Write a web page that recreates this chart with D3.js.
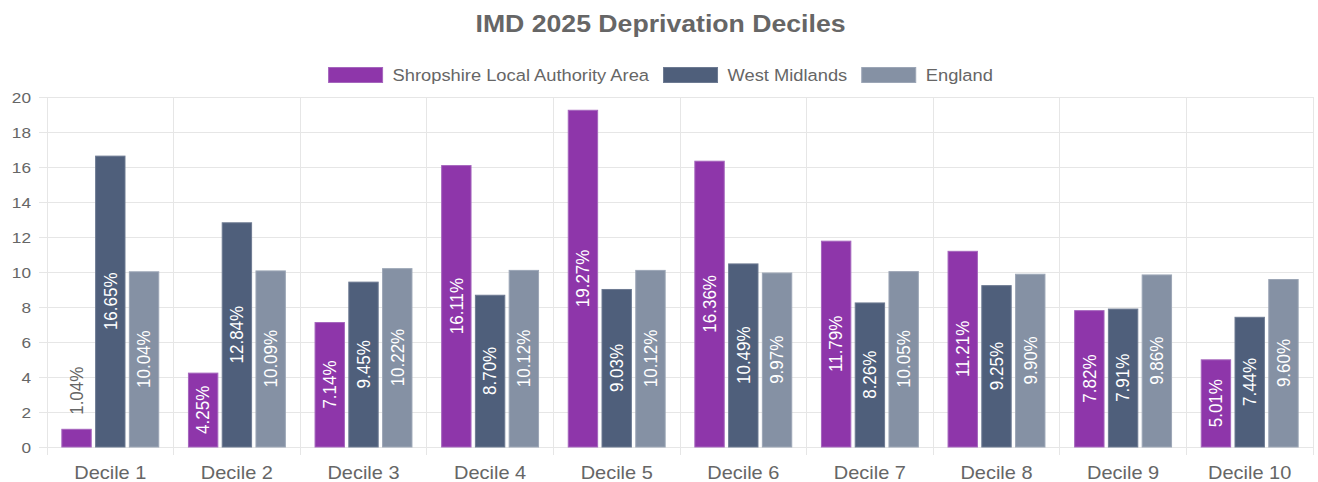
<!DOCTYPE html>
<html><head><meta charset="utf-8">
<script src="https://cdn.jsdelivr.net/npm/d3@7"></script>
<style>html,body{margin:0;padding:0;background:#fff;}svg{display:block;font-family:"Liberation Sans",Arial,sans-serif;}</style>
</head><body>
<svg id="chart" width="1318" height="482"></svg>
<script>
const categories = ["Decile 1","Decile 2","Decile 3","Decile 4","Decile 5","Decile 6","Decile 7","Decile 8","Decile 9","Decile 10"];
const seriesNames = ["Shropshire Local Authority Area","West Midlands","England"];
const shropshire = [1.04,4.25,7.14,16.11,19.27,16.36,11.79,11.21,7.82,5.01];
const westMidlands = [16.65,12.84,9.45,8.70,9.03,10.49,8.26,9.25,7.91,7.44];
const england = [10.04,10.09,10.22,10.12,10.12,9.97,10.05,9.90,9.86,9.60];
const yTicks = [0,2,4,6,8,10,12,14,16,18,20];
const colors = ["#8e36aa","#4f5f7b","#8591a4"];
const borders = ["#a566bd","#6d7a92","#9ca6b6"];

(function(){
const SX = 1.11; // horizontal text stretch
const pL = 47, pR = 1313, pT = 97, pB = 447;
const svg = d3.select("#chart");
const values = [shropshire, westMidlands, england];

const x = d3.scaleBand().domain(categories).range([pL, pR]).padding(0);
const xs = d3.scaleBand().domain(seriesNames)
  .range([x.bandwidth()*0.1, x.bandwidth()*0.9]).paddingInner(0.1).paddingOuter(0.05);
const y = d3.scaleLinear().domain([0,20]).range([pB, pT]);

const grid = "#e6e6e6";
svg.append("g").selectAll("line").data(yTicks).join("line")
  .attr("x1", pL-8).attr("x2", pR).attr("y1", d=>y(d)).attr("y2", d=>y(d))
  .attr("stroke", grid).attr("stroke-width",1).attr("shape-rendering","crispEdges");
const bounds = categories.map(c=>x(c)).concat([pR]);
svg.append("g").selectAll("line").data(bounds).join("line")
  .attr("x1", d=>d).attr("x2", d=>d).attr("y1", pT).attr("y2", pB+8)
  .attr("stroke", grid).attr("stroke-width",1).attr("shape-rendering","crispEdges");

function stext(g, tx, ty, txt, size, opts={}) {
  return g.append("text")
    .attr("transform", `translate(${tx},${ty}) scale(${SX},1)` + (opts.rotate ? ` rotate(${opts.rotate})` : ""))
    .attr("font-size", size).attr("fill", opts.fill || "#666")
    .attr("text-anchor", opts.anchor || "start")
    .attr("dominant-baseline", opts.baseline || "auto")
    .attr("font-weight", opts.weight || "normal")
    .text(txt);
}

const gy = svg.append("g");
yTicks.forEach(v => stext(gy, 31, y(v), String(v), 15.5, {anchor:"end", baseline:"central"}));
const gx = svg.append("g");
categories.forEach(c => stext(gx, x(c)+x.bandwidth()/2, 479, c, 18, {anchor:"middle"}));

const gb = svg.append("g");
const gl = svg.append("g");
values.forEach((vals, si) => {
  categories.forEach((c, ci) => {
    const v = vals[ci];
    const bx = x(c) + xs(seriesNames[si]);
    const bw = xs.bandwidth();
    gb.append("rect").attr("x", bx+0.5).attr("y", y(v)+0.5)
      .attr("width", bw-1).attr("height", pB - y(v) - 0.5)
      .attr("fill", colors[si]).attr("stroke", borders[si]).attr("stroke-width",1);
    const label = v.toFixed(2) + "%";
    const h = pB - y(v);
    const bcx = bx + bw/2;
    if (h > 60) {
      stext(gl, bcx, (y(v)+pB)/2, label, 17, {anchor:"middle", baseline:"central", fill:"#fff", rotate:-90});
    } else {
      stext(gl, bcx, y(v)-14, label, 17, {anchor:"start", baseline:"central", fill:"#666", rotate:-90});
    }
  });
});

stext(svg.append("g"), 660.5, 31.5, "IMD 2025 Deprivation Deciles", 24, {anchor:"middle", weight:"bold"});

const gleg = svg.append("g");
const boxW = 55, boxH = 15, gapT = 9.5, gapI = 14, fs = 16.5;
const items = seriesNames.map((n,i) => {
  const t = stext(gleg, 0, 75, n, fs, {baseline:"central"});
  const w = t.node().getComputedTextLength()*SX;
  return {t, w, i};
});
const total = d3.sum(items, d=>boxW+gapT+d.w) + gapI*(items.length-1);
let lx = 660.5 - total/2;
items.forEach(d => {
  gleg.append("rect").attr("x", lx+0.5).attr("y", 67.5).attr("width", boxW-1).attr("height", boxH)
    .attr("fill", colors[d.i]).attr("stroke", borders[d.i]).attr("stroke-width",1);
  d.t.attr("transform", `translate(${lx+boxW+gapT},75) scale(${SX},1)`);
  lx += boxW + gapT + d.w + gapI;
});
})();
</script>
</body></html>
